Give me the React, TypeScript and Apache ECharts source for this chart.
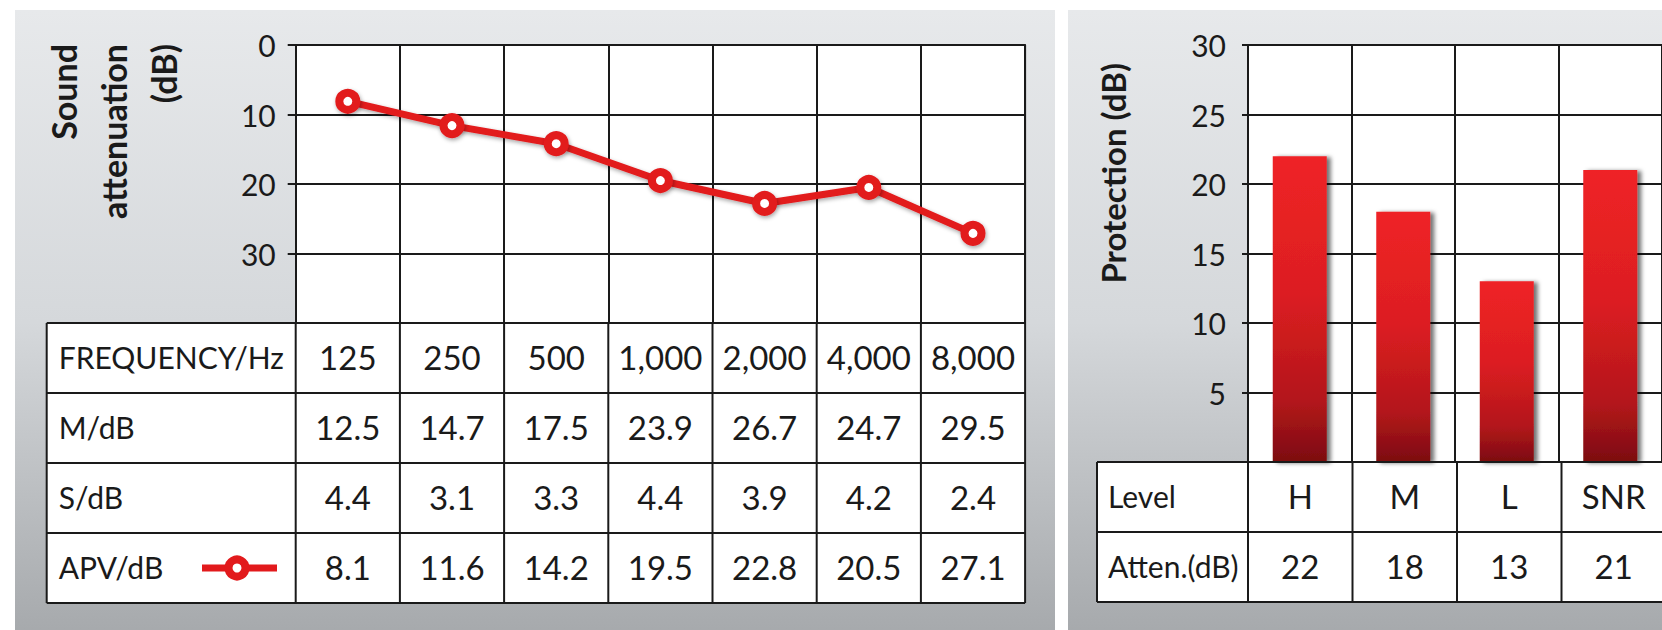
import React, { useEffect, useRef } from 'react';
import * as echarts from 'echarts';

// ---------- data ----------
const frequencies = ['125', '250', '500', '1,000', '2,000', '4,000', '8,000'];
const meanDb = [12.5, 14.7, 17.5, 23.9, 26.7, 24.7, 29.5];
const sdDb = [4.4, 3.1, 3.3, 4.4, 3.9, 4.2, 2.4];
const apvDb = [8.1, 11.6, 14.2, 19.5, 22.8, 20.5, 27.1];
const attenTicks = [0, 10, 20, 30];
const leftRowLabels = ['FREQUENCY/Hz', 'M/dB', 'S/dB', 'APV/dB'];
const leftTitleLines = ['Sound', 'attenuation', '(dB)'];

const levels = ['H', 'M', 'L', 'SNR'];
const protection = [22, 18, 13, 21];
const protectionTicks = [5, 10, 15, 20, 25, 30];
const rightRowLabels = ['Level', 'Atten.(dB)'];
const rightTitle = 'Protection (dB)';

// ---------- layout ----------
const FONT = 'Lato';
const INK = '#1a1a1a';
const RED = '#e21a1c';
const LINE_W = 2;
const LABEL_SIZE = 30;
const VALUE_SIZE = 33;

const L_LEFT = 295.7;
const L_TOP = 45;
const L_COLW = 104.2;
const L_H = 278;
const L_TABLE_LEFT = 46.7;
const ROW_H = 70;

const R_LEFT = 1248;
const R_TOP = 45;
const R_COLW = 104.5;
const R_H = 417;
const R_TABLE_LEFT = 1097;

const panelFill = {
  type: 'linear', x: 0, y: 0, x2: 0, y2: 1,
  colorStops: [
    { offset: 0, color: '#e7e9eb' },
    { offset: 0.5, color: '#d5d8db' },
    { offset: 1, color: '#a6a9ac' },
  ],
};

function txt(text: string, x: number, y: number, opts: any = {}) {
  const align = opts.align || 'center';
  return {
    type: 'text',
    x, y,
    rotation: opts.rotation || 0,
    z: 20,
    style: {
      text,
      fill: INK,
      fontFamily: FONT,
      fontSize: opts.size || LABEL_SIZE,
      fontWeight: opts.weight || 'normal',
      align,
      textAlign: align,
      verticalAlign: 'middle',
      textVerticalAlign: 'middle',
    },
  };
}

function hline(x1: number, x2: number, y: number) {
  return { type: 'line', z: 15, shape: { x1, y1: y, x2, y2: y }, style: { stroke: INK, lineWidth: LINE_W } };
}
function vline(x: number, y1: number, y2: number) {
  return { type: 'line', z: 15, shape: { x1: x, y1, x2: x, y2 }, style: { stroke: INK, lineWidth: LINE_W } };
}

function buildGraphics() {
  const els: any[] = [];
  // panels
  els.push({ type: 'rect', z: -10, shape: { x: 15, y: 10, width: 1040, height: 625 }, style: { fill: panelFill } });
  els.push({ type: 'rect', z: -10, shape: { x: 1068, y: 10, width: 620, height: 625 }, style: { fill: panelFill } });

  // ---- left plot background
  const lRight = L_LEFT + L_COLW * frequencies.length;
  els.push({ type: 'rect', z: -5, shape: { x: L_LEFT, y: L_TOP, width: lRight - L_LEFT, height: L_H }, style: { fill: '#ffffff' } });
  els.push(hline(L_LEFT, lRight, L_TOP));
  els.push(vline(lRight, L_TOP, L_TOP + L_H));

  // ---- left table
  const tTop = L_TOP + L_H;
  const rows = leftRowLabels.length;
  const tBottom = tTop + rows * ROW_H;
  els.push({ type: 'rect', z: -5, shape: { x: L_TABLE_LEFT, y: tTop, width: lRight - L_TABLE_LEFT, height: rows * ROW_H }, style: { fill: '#ffffff' } });
  for (let i = 0; i <= rows; i++) els.push(hline(L_TABLE_LEFT, lRight, tTop + i * ROW_H));
  els.push(vline(L_TABLE_LEFT, tTop, tBottom));
  for (let j = 0; j <= frequencies.length; j++) els.push(vline(L_LEFT + j * L_COLW, tTop, tBottom));
  const rowValues: string[][] = [
    frequencies,
    meanDb.map((v) => v.toFixed(1)),
    sdDb.map((v) => v.toFixed(1)),
    apvDb.map((v) => v.toFixed(1)),
  ];
  for (let i = 0; i < rows; i++) {
    const cy = tTop + i * ROW_H + ROW_H / 2 - 1;
    els.push(txt(leftRowLabels[i], L_TABLE_LEFT + 12, cy, { align: 'left' }));
    rowValues[i].forEach((s, j) => els.push(txt(s, L_LEFT + (j + 0.5) * L_COLW, cy, { size: VALUE_SIZE })));
  }
  // legend symbol in APV row
  const ly = tTop + 3 * ROW_H + ROW_H / 2;
  els.push({ type: 'line', z: 18, shape: { x1: 202, y1: ly, x2: 277, y2: ly }, style: { stroke: RED, lineWidth: 7 } });
  els.push({ type: 'circle', z: 19, shape: { cx: 237, cy: ly, r: 8.5 }, style: { fill: '#ffffff', stroke: RED, lineWidth: 8 } });

  // left title
  leftTitleLines.forEach((s, i) => {
    els.push(txt(s, 63 + i * 50, 44, { align: 'right', rotation: Math.PI / 2, size: 34, weight: 'bold' }));
  });

  // ---- right plot background
  const rRight = R_LEFT + R_COLW * levels.length;
  els.push({ type: 'rect', z: -5, shape: { x: R_LEFT, y: R_TOP, width: rRight - R_LEFT, height: R_H }, style: { fill: '#ffffff' } });
  els.push(hline(R_LEFT, rRight, R_TOP));

  // ---- right table
  const rtTop = R_TOP + R_H;
  const rRows = rightRowLabels.length;
  const rtBottom = rtTop + rRows * ROW_H;
  els.push({ type: 'rect', z: -5, shape: { x: R_TABLE_LEFT, y: rtTop, width: rRight - R_TABLE_LEFT, height: rRows * ROW_H }, style: { fill: '#ffffff' } });
  for (let i = 0; i <= rRows; i++) els.push(hline(R_TABLE_LEFT, rRight, rtTop + i * ROW_H));
  els.push(vline(R_TABLE_LEFT, rtTop, rtBottom));
  for (let j = 0; j <= levels.length; j++) els.push(vline(R_LEFT + j * R_COLW, rtTop, rtBottom));
  const rRowValues: string[][] = [levels, protection.map((v) => String(v))];
  for (let i = 0; i < rRows; i++) {
    const cy = rtTop + i * ROW_H + ROW_H / 2 - 1;
    els.push(txt(rightRowLabels[i], R_TABLE_LEFT + 11, cy, { align: 'left' }));
    rRowValues[i].forEach((s, j) => els.push(txt(s, R_LEFT + (j + 0.5) * R_COLW, cy, { size: VALUE_SIZE })));
  }
  // right title
  els.push(txt(rightTitle, 1113, 63, { align: 'right', rotation: Math.PI / 2, size: 33, weight: 'bold' }));
  return els;
}

const axisLineStyle = { color: INK, width: LINE_W };

export default function App() {
  const ref = useRef<HTMLDivElement>(null);
  useEffect(() => {
    if (!ref.current) return;
    const chart = echarts.init(ref.current, undefined, { renderer: 'svg' });
    const option: any = {
      animation: false,
      backgroundColor: '#ffffff',
      grid: [
        { left: L_LEFT, top: L_TOP, width: L_COLW * frequencies.length, height: L_H },
        { left: R_LEFT, top: R_TOP, width: R_COLW * levels.length, height: R_H },
      ],
      xAxis: [
        {
          gridIndex: 0, type: 'category', data: frequencies, boundaryGap: true, position: 'bottom',
          axisLine: { show: true, lineStyle: axisLineStyle }, axisTick: { show: false }, axisLabel: { show: false },
          splitLine: { show: true, interval: 0, lineStyle: axisLineStyle },
        },
        {
          gridIndex: 1, type: 'category', data: levels, boundaryGap: true,
          axisLine: { show: true, lineStyle: axisLineStyle }, axisTick: { show: false }, axisLabel: { show: false },
          splitLine: { show: true, interval: 0, lineStyle: axisLineStyle },
        },
      ],
      yAxis: [
        {
          gridIndex: 0, type: 'value', inverse: true, min: 0, max: 40, interval: 10,
          axisLine: { show: true, lineStyle: axisLineStyle },
          axisTick: { show: true, inside: false, length: 8, lineStyle: axisLineStyle },
          axisLabel: {
            fontFamily: FONT, fontSize: 30, color: INK, margin: 20,
            formatter: (v: number) => (attenTicks.includes(v) ? String(v) : ''),
          },
          splitLine: { show: true, lineStyle: axisLineStyle },
        },
        {
          gridIndex: 1, type: 'value', min: 0, max: 30, interval: 5,
          axisLine: { show: true, lineStyle: axisLineStyle },
          axisTick: { show: true, inside: false, length: 6, lineStyle: axisLineStyle },
          axisLabel: {
            fontFamily: FONT, fontSize: 30, color: INK, margin: 22,
            formatter: (v: number) => (protectionTicks.includes(v) ? String(v) : ''),
          },
          splitLine: { show: true, lineStyle: axisLineStyle },
        },
      ],
      series: [
        {
          type: 'line', xAxisIndex: 0, yAxisIndex: 0, data: apvDb, z: 10,
          symbol: 'circle', symbolSize: 17,
          lineStyle: { color: RED, width: 7, shadowColor: 'rgba(0,0,0,0.35)', shadowBlur: 4, shadowOffsetX: 1, shadowOffsetY: 2 },
          itemStyle: { color: '#ffffff', borderColor: RED, borderWidth: 8, shadowColor: 'rgba(0,0,0,0.35)', shadowBlur: 4, shadowOffsetX: 1, shadowOffsetY: 2 },
        },
        {
          type: 'bar', xAxisIndex: 1, yAxisIndex: 1, data: protection, barWidth: 54, z: 10,
          itemStyle: {
            color: {
              type: 'linear', x: 0, y: 0, x2: 0, y2: 1,
              colorStops: [
                { offset: 0, color: '#ef2326' },
                { offset: 0.45, color: '#dc1e21' },
                { offset: 0.8, color: '#b3161b' },
                { offset: 1, color: '#7c0c10' },
              ],
            },
            shadowColor: 'rgba(0,0,0,0.55)', shadowBlur: 4, shadowOffsetX: 4, shadowOffsetY: 1,
          },
        },
      ],
      graphic: { elements: buildGraphics() },
    };
    chart.setOption(option);
    return () => chart.dispose();
  }, []);
  return (
    <div
      ref={ref}
      style={{ position: 'fixed', left: 0, top: 0, width: 1662, height: 630, overflow: 'hidden' }}
    />
  );
}
